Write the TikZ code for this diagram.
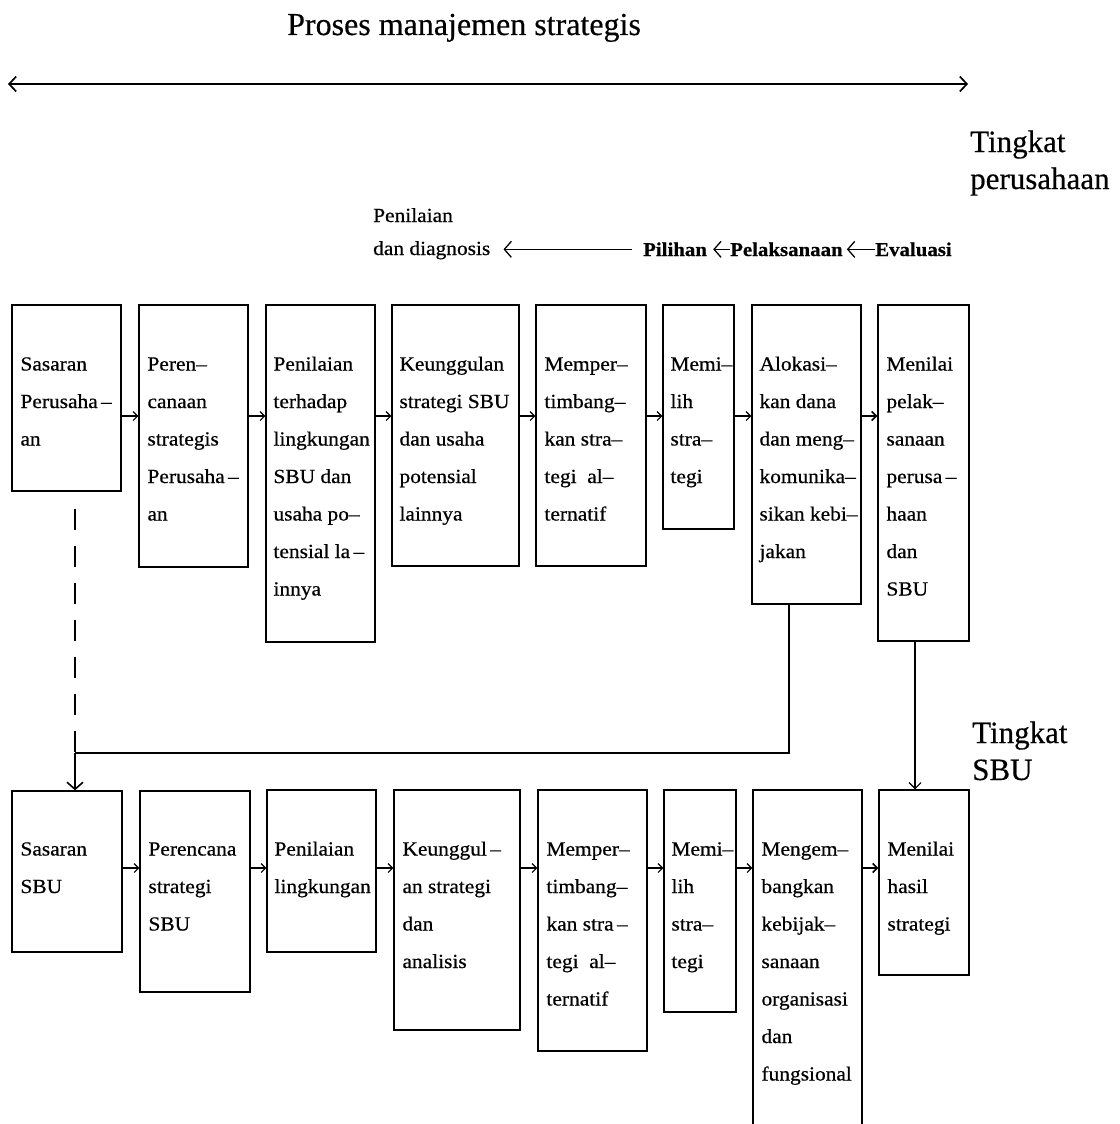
\documentclass[tikz,border=0pt]{standalone}
\usepackage{fontspec}
\setmainfont[FakeStretch=1.07,FakeBold=0.6]{Liberation Serif}
\newfontfamily\plainserif[FakeBold=0.4]{Liberation Serif}
\usetikzlibrary{arrows.meta,fit,calc}
\newcommand\firstline{\rule{0pt}{15pt}}
\begin{document}
\begin{tikzpicture}[x=1pt,y=-1pt,
  box/.style={draw, line width=1.4pt, rectangle, inner sep=0pt},
  txt/.style={anchor=north west, inner sep=0pt, align=left, font=\fontsize{20}{37.5}\selectfont},
  hd/.style={anchor=base west, inner sep=0pt, font=\fontsize{20}{24}\selectfont},
  hdb/.style={anchor=base west, inner sep=0pt, font=\bfseries\fontsize{19.5}{24}\selectfont},
  lab/.style={anchor=base west, inner sep=0pt, font=\plainserif\fontsize{31}{37}\selectfont},
  link/.style={line width=1.1pt, -{Straight Barb[length=4.5pt,width=9pt]}},
  harrow/.style={line width=1.3pt, -{Straight Barb[length=7pt,width=16pt]}},
  dashedlink/.style={line width=1.4pt, dash pattern=on 21pt off 16pt},
  solidlink/.style={line width=1.4pt},
]
\useasboundingbox (0,0) rectangle (1119,1124);
\clip (0,0) rectangle (1119,1124);

% title and main arrow
\node[anchor=base west, inner sep=0pt, font=\plainserif\fontsize{32}{36}\selectfont] (title) at (287,35) {Proses manajemen strategis};
\coordinate (L) at (8,84);
\coordinate (R) at (968,84);
\draw[line width=1.7pt, {Straight Barb[length=7pt,width=15pt]}-{Straight Barb[length=7pt,width=15pt]}] (L) -- (R);

% level labels
\node[lab] (tp1) at (970,152) {Tingkat};
\node[lab] (tp2) at (970,189) {perusahaan};
\node[lab] (ts1) at (972,743) {Tingkat};
\node[lab] (ts2) at (972,780) {SBU};

% header
\node[hd] (pen) at (373,222) {Penilaian};
\node[hd] (dd) at (373,255) {dan diagnosis};
\node[hdb] (pil) at (643,256) {Pilihan};
\node[hdb] (pel) at (730,256) {Pelaksanaan};
\node[hdb] (eva) at (875,256) {Evaluasi};
\draw[harrow, shorten >=13pt, shorten <=11pt] (pil.west) -- (dd.east |- pil.west);
\draw[harrow, shorten >=6pt] (pel.west) -- (pil.east |- pel.west);
\draw[harrow, shorten >=4pt] (eva.west) -- (pel.east |- eva.west);

% top row boxes (Tingkat perusahaan)
\node[box, fit={(12,305) (121,491)}] (a1) {};
\node[box, fit={(139,305) (248,567)}] (a2) {};
\node[box, fit={(266,305) (375,642)}] (a3) {};
\node[box, fit={(392,305) (519,566)}] (a4) {};
\node[box, fit={(536,305) (646,566)}] (a5) {};
\node[box, fit={(663,305) (734,529)}] (a6) {};
\node[box, fit={(752,305) (861,604)}] (a7) {};
\node[box, fit={(878,305) (969,641)}] (a8) {};

\node[txt] (a1t) at ($(a1.north west)+(9,51)$) {\firstline Sasaran\\Perusaha\,–\\an};
\node[txt] (a2t) at ($(a2.north west)+(9,51)$) {\firstline Peren–\\canaan\\strategis\\Perusaha\,–\\an};
\node[txt] (a3t) at ($(a3.north west)+(8,51)$) {\firstline Penilaian\\terhadap\\lingkungan\\SBU dan\\usaha po–\\tensial la\,–\\innya};
\node[txt] (a4t) at ($(a4.north west)+(8,51)$) {\firstline Keunggulan\\strategi SBU\\dan usaha\\potensial\\lainnya};
\node[txt] (a5t) at ($(a5.north west)+(9,51)$) {\firstline Memper–\\timbang–\\kan stra–\\tegi\ \ al–\\ternatif};
\node[txt] (a6t) at ($(a6.north west)+(8,51)$) {\firstline Memi–\\lih\\stra–\\tegi};
\node[txt] (a7t) at ($(a7.north west)+(8,51)$) {\firstline Alokasi–\\kan dana\\dan meng–\\komunika–\\sikan kebi–\\jakan};
\node[txt] (a8t) at ($(a8.north west)+(9,51)$) {\firstline Menilai\\pelak–\\sanaan\\perusa\,–\\haan\\dan\\SBU};

\coordinate (rowA) at (0,416);
\draw[link] (a1.east |- rowA) -- (a2.west |- rowA);
\draw[link] (a2.east |- rowA) -- (a3.west |- rowA);
\draw[link] (a3.east |- rowA) -- (a4.west |- rowA);
\draw[link] (a4.east |- rowA) -- (a5.west |- rowA);
\draw[link] (a5.east |- rowA) -- (a6.west |- rowA);
\draw[link] (a6.east |- rowA) -- (a7.west |- rowA);
\draw[link, line width=1.6pt] (a7.east |- rowA) -- (a8.west |- rowA);

% bottom row boxes (Tingkat SBU)
\node[box, fit={(12,791) (122,952)}] (b1) {};
\node[box, fit={(140,791) (250,992)}] (b2) {};
\node[box, fit={(267,790) (376,952)}] (b3) {};
\node[box, fit={(394,790) (520,1030)}] (b4) {};
\node[box, fit={(538,790) (647,1051)}] (b5) {};
\node[box, fit={(664,790) (736,1012)}] (b6) {};
\node[box, fit={(753,790) (862,1140)}] (b7) {};
\node[box, fit={(879,790) (969,975)}] (b8) {};

\node[txt] (b1t) at ($(b1.north west)+(9,50)$) {\firstline Sasaran\\SBU};
\node[txt] (b2t) at ($(b2.north west)+(9,50)$) {\firstline Perencana\\strategi\\SBU};
\node[txt] (b3t) at ($(b3.north west)+(8,51)$) {\firstline Penilaian\\lingkungan};
\node[txt] (b4t) at ($(b4.north west)+(9,51)$) {\firstline Keunggul\,–\\an strategi\\dan\\analisis};
\node[txt] (b5t) at ($(b5.north west)+(9,51)$) {\firstline Memper–\\timbang–\\kan stra\,–\\tegi\ \ al–\\ternatif};
\node[txt] (b6t) at ($(b6.north west)+(8,51)$) {\firstline Memi–\\lih\\stra–\\tegi};
\node[txt] (b7t) at ($(b7.north west)+(9,51)$) {\firstline Mengem–\\bangkan\\kebijak–\\sanaan\\organisasi\\dan\\fungsional};
\node[txt] (b8t) at ($(b8.north west)+(9,51)$) {\firstline Menilai\\hasil\\strategi};

\coordinate (rowB) at (0,868);
\draw[link] (b1.east |- rowB) -- (b2.west |- rowB);
\draw[link] (b2.east |- rowB) -- (b3.west |- rowB);
\draw[link] (b3.east |- rowB) -- (b4.west |- rowB);
\draw[link] (b4.east |- rowB) -- (b5.west |- rowB);
\draw[link] (b5.east |- rowB) -- (b6.west |- rowB);
\draw[link] (b6.east |- rowB) -- (b7.west |- rowB);
\draw[link, line width=1.6pt] (b7.east |- rowB) -- (b8.west |- rowB);

% vertical connections between levels
\coordinate (j) at (75,753);
\coordinate (k) at (789,753);
\coordinate (m) at (915,700);
\draw[dashedlink, shorten <=17pt] (a1.south -| j) -- (j);
\draw[solidlink] (a7.south -| k) -- (k) -- (j);
\draw[line width=1.6pt, -{Straight Barb[length=7pt,width=16pt]}] (j) -- (b1.north -| j);
\draw[line width=1.1pt, -{Straight Barb[length=6pt,width=12pt]}] (a8.south -| m) -- (b8.north -| m);
\end{tikzpicture}
\end{document}
